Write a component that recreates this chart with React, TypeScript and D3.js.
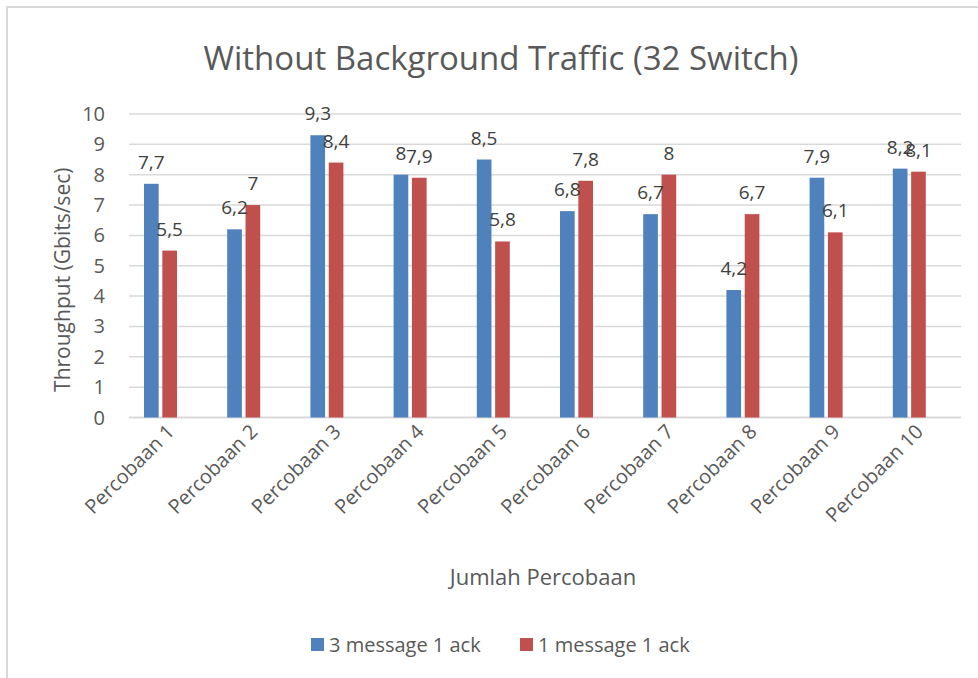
import { useRef, useEffect } from "react"
import * as d3 from "d3"

const title = "Without Background Traffic (32 Switch)"
const categories = [
  "Percobaan 1", "Percobaan 2", "Percobaan 3", "Percobaan 4", "Percobaan 5",
  "Percobaan 6", "Percobaan 7", "Percobaan 8", "Percobaan 9", "Percobaan 10",
]
const seriesNames = ["3 message 1 ack", "1 message 1 ack"]
const threeMsg = [7.7, 6.2, 9.3, 8, 8.5, 6.8, 6.7, 4.2, 7.9, 8.2]
const oneMsg = [5.5, 7, 8.4, 7.9, 5.8, 7.8, 8, 6.7, 6.1, 8.1]
const yTicks = [0, 1, 2, 3, 4, 5, 6, 7, 8, 9, 10]
const colors = ["#4F81BD", "#C0504D"]

const FONT = "'Open Sans', 'Liberation Sans', sans-serif"
const TEXT = "#595959"

const App = () => {
  const svgRef = useRef<SVGSVGElement>(null)

  useEffect(() => {
    const svg = d3.select(svgRef.current)
    svg.selectAll("*").remove()

    const W = 978
    const H = 678
    const left = 129
    const right = 961
    const top = 114
    const bottom = 417.5

    // frame
    svg.append("rect")
      .attr("x", 7).attr("y", 7)
      .attr("width", W + 10).attr("height", H + 10)
      .attr("fill", "white")
      .attr("stroke", "#D9D9D9")
      .attr("stroke-width", 2)

    const x0 = d3.scaleBand().domain(categories).range([left, right])
    const x1 = d3.scaleBand().domain(seriesNames).range([15, 48]).paddingInner(0.2)
    const y = d3.scaleLinear().domain([0, 10]).range([bottom, top])

    // gridlines
    svg.append("g")
      .selectAll("line")
      .data(yTicks)
      .enter()
      .append("line")
      .attr("x1", left).attr("x2", right)
      .attr("y1", (d) => y(d)).attr("y2", (d) => y(d))
      .attr("stroke", "#D9D9D9")
      .attr("stroke-width", (d) => (d === 0 ? 2 : 1.5))

    // y tick labels
    svg.append("g")
      .selectAll("text")
      .data(yTicks)
      .enter()
      .append("text")
      .attr("x", 105)
      .attr("y", (d) => y(d))
      .attr("dy", "0.35em")
      .attr("text-anchor", "end")
      .style("font-family", FONT)
      .style("font-size", "20px")
      .style("fill", TEXT)
      .text((d) => d)

    const fmt = (v: number) => String(v).replace(".", ",")
    const series = [threeMsg, oneMsg]

    series.forEach((vals, si) => {
      const g = svg.append("g")
      g.selectAll("rect")
        .data(vals)
        .enter()
        .append("rect")
        .attr("x", (d, i) => x0(categories[i])! + x1(seriesNames[si])!)
        .attr("y", (d) => y(d))
        .attr("width", x1.bandwidth())
        .attr("height", (d) => bottom - y(d))
        .attr("fill", colors[si])
    })

    // data labels
    series.forEach((vals, si) => {
      svg.append("g")
        .selectAll("text")
        .data(vals)
        .enter()
        .append("text")
        .attr("x", (d, i) => x0(categories[i])! + x1(seriesNames[si])! + x1.bandwidth() / 2)
        .attr("y", (d) => y(d) - 15)
        .attr("text-anchor", "middle")
        .style("font-family", FONT)
        .style("font-size", "19px")
        .style("fill", "#404040")
        .text((d) => fmt(d))
    })

    // category labels
    svg.append("g")
      .selectAll("text")
      .data(categories)
      .enter()
      .append("text")
      .attr("transform", (d) => `translate(${x0(d)! + x0.bandwidth() / 2 + 5},${433}) rotate(-45)`)
      .attr("text-anchor", "end")
      .style("font-family", FONT)
      .style("font-size", "20px")
      .style("fill", TEXT)
      .text((d) => d)

    // title
    svg.append("text")
      .attr("x", 501)
      .attr("y", 70)
      .attr("text-anchor", "middle")
      .style("font-family", FONT)
      .style("font-size", "33px")
      .style("fill", TEXT)
      .text(title)

    // y axis title
    svg.append("text")
      .attr("transform", `translate(70,${(top + bottom) / 2 + 14}) rotate(-90)`)
      .attr("text-anchor", "middle")
      .style("font-family", FONT)
      .style("font-size", "21px")
      .style("fill", TEXT)
      .text("Throughput (Gbits/sec)")

    // x axis title
    svg.append("text")
      .attr("x", 543)
      .attr("y", 585)
      .attr("text-anchor", "middle")
      .style("font-family", FONT)
      .style("font-size", "22px")
      .style("fill", TEXT)
      .text("Jumlah Percobaan")

    // legend
    const legendX = [311, 520]
    seriesNames.forEach((name, i) => {
      svg.append("rect")
        .attr("x", legendX[i]).attr("y", 638)
        .attr("width", 13).attr("height", 13)
        .attr("fill", colors[i])
      svg.append("text")
        .attr("x", legendX[i] + 18)
        .attr("y", 652)
        .style("font-family", FONT)
        .style("font-size", "20px")
        .style("fill", TEXT)
        .text(name)
    })
  }, [])

  return (
    <svg
      ref={svgRef}
      width={978}
      height={678}
      style={{ position: "absolute", left: 0, top: 0, background: "white" }}
    ></svg>
  )
}

export default App
